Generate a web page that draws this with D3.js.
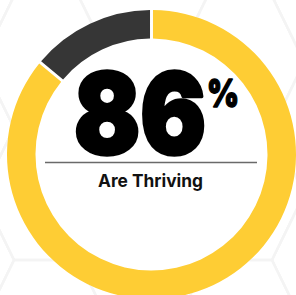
<!DOCTYPE html>
<html>
<head>
<meta charset="utf-8">
<script src="https://cdn.jsdelivr.net/npm/d3@7"></script>
<style>
  body { margin: 0; background: #fff; }
  #chart { width: 296px; height: 295px; }
</style>
</head>
<body>
<div id="chart"></div>
<script>
//---------------------DATA--------------------------------
var categories = ['Are Thriving', 'Not Thriving'];
var values = [86, 14];
var colors = ['#FECD34', '#363636'];
var headline = '86';
var caption = 'Are Thriving';

//---------------------SIZE--------------------------------
var width = 296;
var height = 295;
var cx = 151.5, cy = 154.5;
var outerR = 144.5, innerR = 116;

var svg = d3.select('#chart').append('svg')
  .attr('width', width)
  .attr('height', height);

//---------------------HEX BACKGROUND (very faint)---------
drawHexes();

function drawHexes () {
  var s = 64.5, h = 66;       // side (horizontal) and half height
  var x0 = 14 - s, y0 = 260;  // one hex centre
  var g = svg.append('g')
    .attr('fill', 'none')
    .attr('stroke', '#f4f4f4')
    .attr('stroke-width', 2.5);
  for (var i = -2; i < 6; i++) {
    for (var j = -4; j < 4; j++) {
      var hx = x0 + 1.5 * s * i;
      var hy = y0 + 2 * h * j + (Math.abs(i) % 2 ? h : 0);
      var pts = [[hx - s, hy], [hx - s / 2, hy - h], [hx + s / 2, hy - h],
                 [hx + s, hy], [hx + s / 2, hy + h], [hx - s / 2, hy + h]];
      g.append('polygon').attr('points', pts.map(p => p.join(',')).join(' '));
    }
  }
}

//---------------------DONUT--------------------------------
var pie = d3.pie().sort(null).value(d => d);
var arc = d3.arc()
  .innerRadius(innerR)
  .outerRadius(outerR)
  .padAngle(0.016);

var donut = svg.append('g').attr('transform', 'translate(' + cx + ',' + cy + ')');

donut.append('circle').attr('r', outerR).attr('fill', '#fff');

donut.selectAll('path')
  .data(pie(values))
  .enter()
  .append('path')
  .attr('d', arc)
  .attr('fill', (d, i) => colors[i])
  .attr('label', (d, i) => categories[i] + ': ' + d.data + '%');

//---------------------CENTRE TEXT--------------------------
// stroke thickens the glyphs toward the heavy display face of the original
svg.append('text')
  .attr('x', 140)
  .attr('y', 154)
  .attr('text-anchor', 'middle')
  .attr('font-family', 'Inter, "Open Sans", sans-serif')
  .attr('font-weight', 900)
  .attr('font-size', 112)
  .attr('textLength', 132)
  .attr('lengthAdjust', 'spacingAndGlyphs')
  .attr('fill', '#000')
  .attr('stroke', '#000')
  .attr('stroke-width', 3.5)
  .attr('stroke-linejoin', 'round')
  .text(headline);

svg.append('text')
  .attr('x', 207)
  .attr('y', 107)
  .attr('font-family', 'Inter, "Open Sans", sans-serif')
  .attr('font-weight', 900)
  .attr('font-size', 38)
  .attr('textLength', 32)
  .attr('lengthAdjust', 'spacingAndGlyphs')
  .attr('fill', '#000')
  .attr('stroke', '#000')
  .attr('stroke-width', 1.5)
  .attr('stroke-linejoin', 'round')
  .text('%');

svg.append('line')
  .attr('x1', 45).attr('x2', 257)
  .attr('y1', 162.5).attr('y2', 162.5)
  .attr('stroke', '#6a6a6a')
  .attr('stroke-width', 1.3);

svg.append('text')
  .attr('x', 150.5)
  .attr('y', 187)
  .attr('text-anchor', 'middle')
  .attr('font-family', 'Inter, "Open Sans", sans-serif')
  .attr('font-weight', 700)
  .attr('font-size', 18)
  .attr('textLength', 105)
  .attr('lengthAdjust', 'spacingAndGlyphs')
  .attr('fill', '#111')
  .text(caption);
</script>
</body>
</html>
